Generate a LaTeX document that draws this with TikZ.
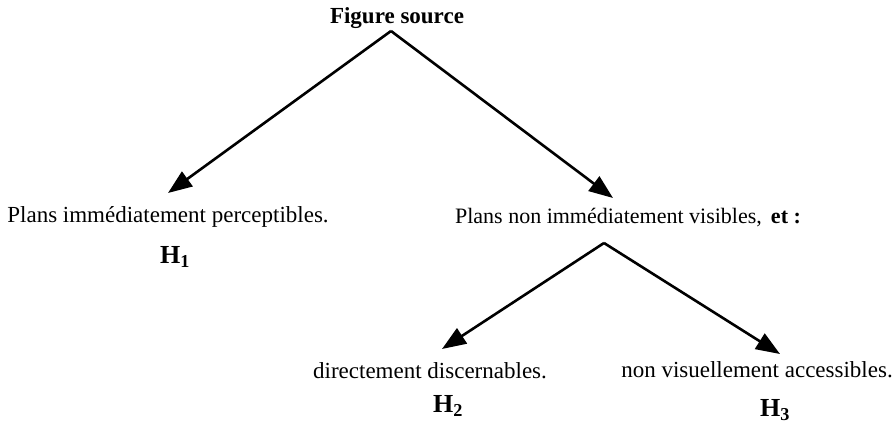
\documentclass[tikz,border=0pt]{standalone}
\usepackage{fontspec}
\setmainfont{Liberation Serif}
\usetikzlibrary{arrows.meta}
\begin{document}
\begin{tikzpicture}[x=1pt,y=-1pt,
  lbl/.style={inner sep=0pt, anchor=base, font=\fontsize{23}{26}\selectfont},
  hl/.style={inner sep=0pt, anchor=base, font=\fontsize{26}{28}\selectfont\bfseries},
  arr/.style={line width=2.6pt, -{Triangle[length=24pt,width=18pt]}}]
\useasboundingbox (0,0) rectangle (895,430);
\node[lbl, font=\fontsize{23}{26}\selectfont\bfseries] (src) at (397,24) {Figure source};
\coordinate (a1) at (391,31);
\node[lbl] (p1) at (168,223) {Plans immédiatement perceptibles.};
\node[hl] (h1) at (175,264) {H\textsubscript{1}};
\node[lbl, font=\fontsize{22}{26}\selectfont] (p2) at (628,224) {Plans non immédiatement visibles, \,\textbf{et :}};
\coordinate (a2) at (604,243);
\node[lbl] (d) at (430,379) {directement discernables.};
\node[hl] (h2) at (448,413) {H\textsubscript{2}};
\node[lbl] (n) at (757,378) {non visuellement accessibles.};
\node[hl] (h3) at (775,417) {H\textsubscript{3}};
\coordinate (t1) at (168,193);
\coordinate (t2) at (613,198);
\coordinate (t3) at (442,349);
\coordinate (t4) at (780,354);
\draw[arr] (a1) -- (t1);
\draw[arr] (a1) -- (t2);
\draw[arr] (a2) -- (t3);
\draw[arr] (a2) -- (t4);
\end{tikzpicture}
\end{document}
